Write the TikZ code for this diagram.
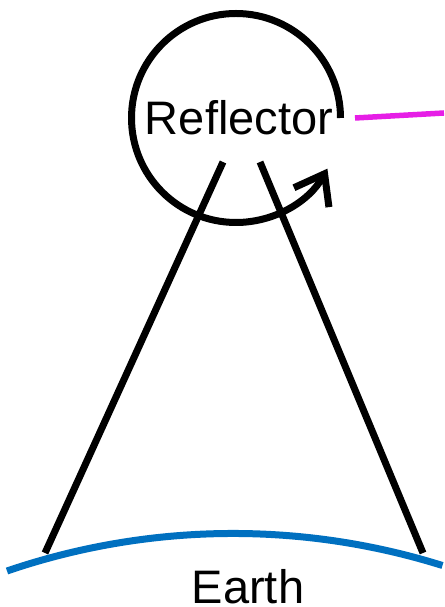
\documentclass[tikz,border=0pt]{standalone}
\usepackage{fontspec}
\setmainfont{Liberation Sans}
\usepackage{tikz}
\usetikzlibrary{positioning, arrows.meta, calc}
\definecolor{earthblue}{RGB}{0,112,192}
\definecolor{linkpink}{RGB}{230,30,230}
\tikzset{
    thick line/.style={line width=7pt, black},
    big label/.style={font=\fontsize{47}{56}\selectfont, inner sep=0pt, anchor=base},
    spin arrow/.style={-{Straight Barb[length=27pt, width=40pt, line width=7pt]}}
}

\begin{document}
\begin{tikzpicture}[x=1pt, y=1pt]
\useasboundingbox (0,0) rectangle (444,607);

% reflector and its spin
\coordinate (centre) at (236,489);
\node[big label] (refl) at (239,472) {Reflector};
\draw[thick line, spin arrow] ($(centre)+(104.5,0)$) arc[start angle=0, end angle=331, radius=104.5];

% link going off to the right
\coordinate (link start) at (355,489);
\coordinate (link end) at (444,494);
\draw[line width=5.5pt, linkpink] (link start) -- (link end);

% beam cone down to the ground
\coordinate (beam l top) at (223,445);
\coordinate (beam r top) at (260,445);
\coordinate (beam l foot) at (45,54);
\coordinate (beam r foot) at (423,54);
\draw[thick line] (beam l top) -- (beam l foot);
\draw[thick line] (beam r top) -- (beam r foot);

% ground
\coordinate (ground l) at (7,36);
\draw[line width=7pt, earthblue] (ground l) arc[start angle=108.85, end angle=72.6, radius=700];
\node[big label] (earth) at (248,4) {Earth};
\end{tikzpicture}
\end{document}
